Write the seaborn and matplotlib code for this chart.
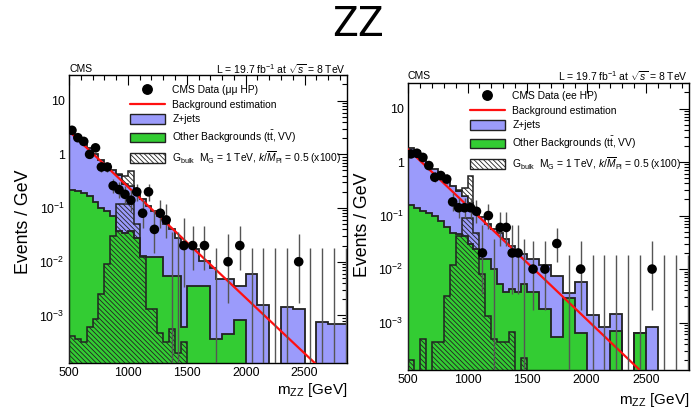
import numpy as np
import pandas as pd
import matplotlib
matplotlib.use("Agg")
import matplotlib.pyplot as plt
import seaborn as sns
from matplotlib.lines import Line2D
from matplotlib.patches import Patch
from matplotlib.ticker import MultipleLocator, LogLocator, NullFormatter

sns.set_theme(style="white")
plt.rcParams['font.family'] = ['Liberation Sans', 'DejaVu Sans']
plt.rcParams['mathtext.fontset'] = 'custom'
plt.rcParams['mathtext.rm'] = 'Liberation Sans'
plt.rcParams['mathtext.it'] = 'Liberation Sans:italic'
plt.rcParams['mathtext.bf'] = 'Liberation Sans:bold'
plt.rcParams['hatch.linewidth'] = 0.6
plt.rcParams['text.color'] = 'black'

# ---------------- data ----------------
# MC histograms: 50 GeV bins from 500 to 2900 GeV, values in events / GeV
mc_edges = [500 + 50 * i for i in range(49)]

mm_other = [0.22, 0.21, 0.19, 0.17, 0.13, 0.10, 0.088, 0.07, 0.037, 0.035,
            0.037, 0.028, 0.013, 0.012, 0.012, 0.012, 0.0055, 0.0055, 0.0055, 0.0006,
            0.0035, 0.0035, 0.0035, 0.0035, 0.00036, 0.00036, 0.00046, 0.00046, 0.00083, 0.00083,
            0, 0, 0, 0, 0, 0, 0, 0, 0, 0,
            0, 0, 0, 0, 0, 0, 0, 0]
mm_zjets = [2.18, 1.84, 1.46, 1.16, 0.87, 0.70, 0.572, 0.43, 0.373, 0.245,
            0.218, 0.167, 0.137, 0.098, 0.076, 0.060, 0.0445, 0.0345, 0.0225, 0.0204,
            0.0175, 0.0135, 0.0069, 0.0069, 0.0074, 0.0045, 0.0044, 0.0044, 0.0027, 0.0027,
            0.0059, 0.0059, 0.00155, 0.00155, 0, 0, 0.00144, 0.00144, 0.00134, 0.00134,
            0, 0, 0.00074, 0.00074, 0.00069, 0.00069, 0.00069, 0.00069]
mm_signal = [4.2e-4, 3.6e-4, 3.2e-4, 6e-4, 8.5e-4, 2.5e-3, 9e-3, 0.030, 0.117, 0.117,
             0.117, 0.05, 0.012, 1.3e-3, 1.3e-3, 4.8e-4, 3.2e-4, 5.5e-4, 2e-4, 3.2e-4,
             0, 0, 0, 0, 0, 0, 0, 0, 0, 0,
             0, 0, 0, 0, 0, 0, 0, 0, 0, 0,
             0, 0, 0, 0, 0, 0, 0, 0]
mm_signal_stacked = [0, 0, 0, 0, 0, 0, 0, 0, 0.02, 0.12,
                     0.225, 0.01, 0, 0, 0, 0, 0, 0, 0, 0,
                     0, 0, 0, 0, 0, 0, 0, 0, 0, 0,
                     0, 0, 0, 0, 0, 0, 0, 0, 0, 0,
                     0, 0, 0, 0, 0, 0, 0, 0]

ee_other = [0.16, 0.14, 0.12, 0.11, 0.097, 0.079, 0.06, 0.048, 0.045, 0.042,
            0.03, 0.024, 0.0154, 0.0154, 0.01, 0.0053, 0.0037, 0.0042, 0.0037, 0.0053,
            0.0037, 0.0037, 0.0018, 0.0018, 0.00054, 0.00054, 0.0029, 0.0029, 0.00065, 0.00065,
            0, 0, 0, 0, 0.00071, 0.00071, 0, 0, 0.00065, 0.00065,
            0, 0, 0, 0, 0, 0, 0, 0]
ee_zjets = [1.69, 1.46, 1.16, 0.77, 0.653, 0.511, 0.38, 0.302, 0.245, 0.188,
            0.144, 0.11, 0.0766, 0.0536, 0.045, 0.0427, 0.0323, 0.0228, 0.0183, 0.0137,
            0.0117, 0.0117, 0.01, 0.01, 0.0068, 0.0068, 0.0007, 0.0007, 0.0051, 0.0051,
            0.00139, 0.00139, 0.00082, 0.00082, 0.00074, 0.00074, 0, 0, 0, 0,
            0.00082, 0.00082, 0, 0, 0, 0, 0, 0]
ee_signal = [2e-4, 0, 5e-4, 0, 4.4e-4, 4.4e-4, 3.2e-3, 0.012, 0.042, 0.091,
             0.091, 0.048, 0.008, 1.35e-3, 5e-4, 4.4e-4, 4.4e-4, 6.6e-4, 0, 2.2e-4,
             0, 0, 0, 0, 0, 0, 0, 0, 0, 0,
             0, 0, 0, 0, 0, 0, 0, 0, 0, 0,
             0, 0, 0, 0, 0, 0, 0, 0]
ee_signal_stacked = [0, 0, 0, 0, 0, 0, 0, 0, 0.01, 0.10,
                     0.37, 0, 0, 0, 0, 0, 0, 0, 0, 0,
                     0, 0, 0, 0, 0, 0, 0, 0, 0, 0,
                     0, 0, 0, 0, 0, 0, 0, 0, 0, 0,
                     0, 0, 0, 0, 0, 0, 0, 0]

# Data: bin centres (GeV) and events / GeV (50 GeV bins below 1500, 100 GeV above)
data_x = [525, 575, 625, 675, 725, 775, 825, 875, 925, 975, 1025, 1075, 1125, 1175,
          1225, 1275, 1325, 1375, 1425, 1475, 1550, 1650, 1750, 1850, 1950, 2050,
          2150, 2250, 2350, 2450, 2550, 2650, 2750, 2850]
mm_data = [2.8, 2.04, 1.74, 1.0, 1.32, 0.58, 0.58, 0.26, 0.22, 0.18, 0.14, 0.20, 0.08, 0.20,
           0.04, 0.08, 0.06, 0, 0, 0.02, 0.02, 0.02, 0, 0.01, 0.02, 0,
           0, 0, 0, 0.01, 0, 0, 0, 0]
ee_data = [1.42, 1.46, 1.22, 0.86, 0.52, 0.56, 0.48, 0.18, 0.14, 0.14, 0.14, 0.12, 0.02, 0.10,
           0, 0.06, 0.06, 0.02, 0.02, 0, 0.01, 0.01, 0.03, 0, 0.01, 0,
           0, 0, 0, 0, 0.01, 0, 0, 0]

# Background estimation (straight line on log scale): end points
mm_fit_x = [500, 2650]
mm_fit_y = [2.7, 9.6e-5]
ee_fit_x = [500, 2500]
ee_fit_y = [1.74, 1.0e-4]

tick_vals = [1e-3, 1e-2, 1e-1, 1, 10]
tick_labels = [r'$10^{-3}$', r'$10^{-2}$', r'$10^{-1}$', '1', '10']

legend_labels_mm = ['CMS Data (\u03bc\u03bc HP)', 'Background estimation', 'Z+jets',
                    r'Other Backgrounds (t$\bar{\rm t}$, VV)',
                    r'G$_{\rm bulk}$  M$_{\rm G}$ = 1 TeV, $k/\overline{M}_{\rm Pl}$ = 0.5 (x100)']
legend_labels_ee = ['CMS Data (ee HP)'] + legend_labels_mm[1:]

# ---------------- style ----------------
BLUE = '#9b9bfb'
GREEN = '#33cc33'
EDGE = '#222222'
HATCH = '\\\\\\\\\\\\\\'
FLOOR = 1e-7
W, H = 692, 411


def poisson_interval(n):
    n = np.asarray(n, dtype=float)
    hi = (n + 1) * (1 - 1 / (9 * (n + 1)) + 1 / (3 * np.sqrt(n + 1))) ** 3
    m = np.maximum(n, 1)
    lo = np.where(n > 0, n * (1 - 1 / (9 * m) - 1 / (3 * np.sqrt(m))) ** 3, 0)
    return lo, hi


def panel(ax, other, zjets, signal, signal_st, data_y, fit_x, fit_y):
    edges = np.array(mc_edges, dtype=float)
    G = np.array(other)
    T = G + np.array(zjets)
    S = np.array(signal)
    SS = np.array(signal_st)
    pos = lambda v: np.where(v > 0, v, FLOOR)

    ax.stairs(pos(T), edges, baseline=FLOOR, fill=True, facecolor=BLUE, edgecolor='none', zorder=1)
    ax.stairs(pos(G), edges, baseline=FLOOR, fill=True, facecolor=GREEN, edgecolor='none', zorder=2)
    ax.stairs(pos(T), edges, baseline=FLOOR, fill=False, edgecolor=EDGE, lw=1.3, zorder=3)
    ax.stairs(pos(G), edges, baseline=FLOOR, fill=False, edgecolor=EDGE, lw=1.3, zorder=3)
    # signal hatched from zero
    ax.stairs(pos(S), edges, baseline=FLOOR, fill=True, facecolor='none', edgecolor=EDGE,
              hatch=HATCH, lw=1.1, zorder=4)
    # signal stacked on top of the background
    idx = np.nonzero(SS)[0]
    i0, i1 = idx.min(), idx.max() + 1
    ax.stairs(T[i0:i1] + SS[i0:i1], edges[i0:i1 + 1], baseline=T[i0:i1], fill=True,
              facecolor='white', edgecolor=EDGE, hatch=HATCH, lw=1.1, zorder=4)

    # background estimation
    sns.lineplot(x=fit_x, y=fit_y, color='#ff1010', lw=1.6, ax=ax, legend=False, zorder=5)

    # data with Poisson errors
    dx = np.array(data_x, dtype=float)
    dy = np.array(data_y, dtype=float)
    width = np.where(dx < 1500, 50.0, 100.0)
    n = np.round(dy * width)
    lo, hi = poisson_interval(n)
    ymin = np.where(n > 0, lo / width, FLOOR)
    ymin = np.where(ymin > 0, ymin, FLOOR)
    ax.vlines(dx, ymin, hi / width, color='#555555', lw=1.0, zorder=6)
    df = pd.DataFrame({'x': dx[n > 0], 'y': dy[n > 0]})
    sns.scatterplot(data=df, x='x', y='y', color='black', s=48, edgecolor='none', ax=ax,
                    zorder=7, legend=False)

    ax.set_yscale('log')
    ax.set_xlim(500, 2860)
    ax.set_ylim(1.3e-4, 30)
    ax.set_xlabel('')
    ax.set_ylabel('')
    ax.set_yticks(tick_vals)
    ax.set_yticklabels(tick_labels)
    ax.yaxis.set_minor_locator(LogLocator(base=10, subs=np.arange(2, 10)))
    ax.yaxis.set_minor_formatter(NullFormatter())
    ax.xaxis.set_major_locator(MultipleLocator(500))
    ax.xaxis.set_minor_locator(MultipleLocator(100))
    ax.tick_params(which='both', direction='in', top=True, right=True, colors='black',
                   labelsize=8.9, width=0.8)
    ax.tick_params(which='major', length=7, pad=3)
    ax.tick_params(which='minor', length=3.5)
    for sp in ax.spines.values():
        sp.set_color('black')
        sp.set_linewidth(1.0)

    handles = [Line2D([], [], marker='o', color='black', linestyle='none', markersize=6.8),
               Line2D([], [], color='#ff1010', lw=1.6),
               Patch(facecolor=BLUE, edgecolor=EDGE, lw=1.0),
               Patch(facecolor=GREEN, edgecolor=EDGE, lw=1.0),
               Patch(facecolor='white', edgecolor=EDGE, hatch=HATCH, lw=1.0)]
    return handles


fig = plt.figure(figsize=(W / 100, H / 100), dpi=100)
fig.patch.set_facecolor('white')


def px_axes(x0, y0, x1, y1):
    return fig.add_axes([x0 / W, 1 - y1 / H, (x1 - x0) / W, (y1 - y0) / H])


ax1 = px_axes(69, 75, 347, 363)
ax2 = px_axes(408, 83, 689, 370)

h1 = panel(ax1, mm_other, mm_zjets, mm_signal, mm_signal_stacked, mm_data, mm_fit_x, mm_fit_y)
h2 = panel(ax2, ee_other, ee_zjets, ee_signal, ee_signal_stacked, ee_data, ee_fit_x, ee_fit_y)

leg_kw = dict(loc='upper left', frameon=False, fontsize=7.4, handlelength=3.4, handleheight=1.05,
              handletextpad=0.7, labelspacing=0.42, borderpad=0, borderaxespad=0,
              bbox_transform=fig.transFigure)
ax1.legend(h1, legend_labels_mm, bbox_to_anchor=(130 / W, 1 - 85 / H), **leg_kw)
ax2.legend(h2, legend_labels_ee, bbox_to_anchor=(470 / W, 1 - 91 / H), **leg_kw)


def ftext(x, y, s, **kw):
    fig.text(x / W, 1 - y / H, s, **kw)


ftext(358, 25, 'ZZ', family=['Roboto', 'DejaVu Sans'], fontsize=31, ha='center', va='center')
ftext(69, 69, 'CMS', fontsize=7.5, ha='left', va='center')
ftext(346, 69, r'L = 19.7 fb$^{-1}$ at $\sqrt{s}$ = 8 TeV', fontsize=7.5, ha='right', va='center')
ftext(408, 76, 'CMS', fontsize=7.5, ha='left', va='center')
ftext(688, 76, r'L = 19.7 fb$^{-1}$ at $\sqrt{s}$ = 8 TeV', fontsize=7.5, ha='right', va='center')
ftext(24, 222, 'Events / GeV', fontsize=12.8, rotation=90, ha='center', va='center')
ftext(363, 225, 'Events / GeV', fontsize=12.8, rotation=90, ha='center', va='center')
ftext(347, 390, r'm$_{\rm ZZ}$ [GeV]', fontsize=11, ha='right', va='center')
ftext(689, 400, r'm$_{\rm ZZ}$ [GeV]', fontsize=11, ha='right', va='center')

fig.savefig('out.png', dpi=100)
